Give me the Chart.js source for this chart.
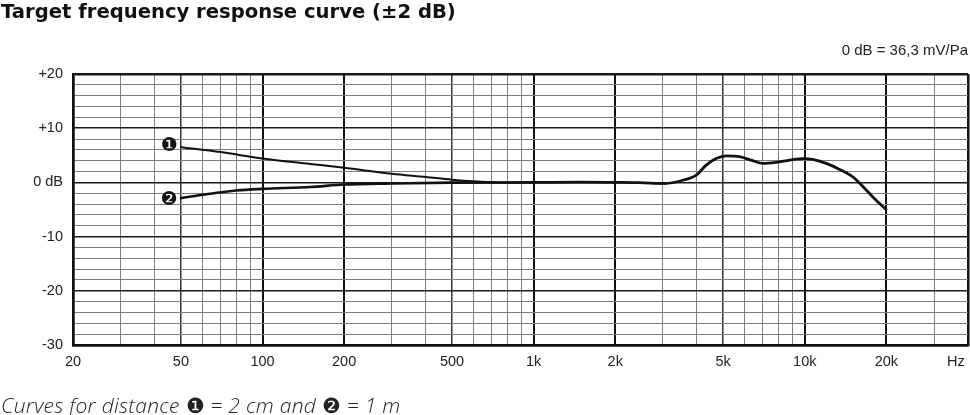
<!DOCTYPE html>
<html><head><meta charset="utf-8">
<script src="https://cdn.jsdelivr.net/npm/chart.js@4/dist/chart.umd.min.js"></script>
<style>
html,body{margin:0;padding:0;background:#fff;}
#wrap{position:relative;width:970px;height:415px;overflow:hidden;background:#fff;}
#c{position:absolute;left:0;top:0;}
.title{position:absolute;left:1px;top:0px;font:700 19.6px "DejaVu Sans",sans-serif;color:#111;white-space:nowrap;letter-spacing:0px;}
.ref{position:absolute;right:2px;top:41px;font:15px "Liberation Sans",Arial,sans-serif;color:#222;white-space:nowrap;}
.cap{position:absolute;left:1px;top:391px;font:italic 300 21px "Open Sans",sans-serif;color:#222;white-space:nowrap;letter-spacing:0.3px;}
.cap .d{font-style:normal;font-family:"DejaVu Sans",sans-serif;font-size:21px;letter-spacing:0;}
</style>
</head><body>
<div id="wrap">
<canvas id="c" width="970" height="415"></canvas>
<div class="title">Target frequency response curve (±2 dB)</div>
<div class="ref">0 dB = 36,3 mV/Pa</div>
<div class="cap">Curves for distance <span class="d">❶</span> = 2 cm and <span class="d">❷</span> = 1 m</div>
</div>
<script>
// Curve 1: distance 2 cm (low-frequency part, Hz / dB)
const freq1 = [50, 70, 100, 150, 200, 300, 400, 500, 600, 700, 800, 1000];
const resp1 = [6.5, 5.6, 4.4, 3.4, 2.7, 1.6, 1.0, 0.5, 0.2, 0.05, 0, 0];
// Curve 2: distance 1 m (low-frequency part)
const freq2 = [50, 62, 80, 100, 150, 200, 300, 500, 1000];
const resp2 = [-2.9, -2.2, -1.5, -1.2, -0.85, -0.4, -0.2, -0.05, 0];
// Shared part of both curves above 1 kHz
const freqHi = [1000, 1500, 2000, 2460, 3040, 3550, 3980, 4330, 4710, 5130, 5740, 6430, 7000, 7840, 8790, 9840, 10700, 12000, 13450, 15070, 16880, 18330, 19950];
const respHi = [0, 0.05, 0, -0.05, -0.2, 0.4, 1.35, 3.2, 4.4, 4.9, 4.75, 4.0, 3.5, 3.7, 4.1, 4.4, 4.25, 3.5, 2.4, 1.0, -1.45, -3.3, -5.0];

// Axis grid / tick labels
const xGridValues = [20,30,40,50,60,70,80,90,100,200,300,400,500,600,700,800,900,1000,2000,3000,4000,5000,6000,7000,8000,9000,10000,20000,30000,40000];
const xLabelValues = [20,50,100,200,500,1000,2000,5000,10000,20000,40000];
const xLabelTexts = ['20','50','100','200','500','1k','2k','5k','10k','20k','Hz      '];
const yLabelValues = [20,10,0,-10,-20,-30];
const yLabelTexts = ['+20','+10','0 dB','-10','-20','-30'];
const markerTexts = ['❶','❷'];

const toPts = (f, r) => f.map((v, i) => ({x: v, y: r[i]}));

const xMajor = [100,200,1000,2000,10000,20000];
const xMedium = [50,500,5000];
const xEdge = [20,40000];

function xGridColor(ctx){ const v = ctx.tick && ctx.tick.value;
  if (xEdge.includes(v) || xMajor.includes(v)) return '#111';
  if (xMedium.includes(v)) return '#333';
  return '#7d7d7d'; }
function xGridWidth(ctx){ const v = ctx.tick && ctx.tick.value;
  if (xEdge.includes(v)) return 2.5;
  if (xMajor.includes(v)) return 2;
  if (xMedium.includes(v)) return 1.5;
  return 1; }
function yGridColor(ctx){ const v = ctx.tick && ctx.tick.value;
  if (v % 10 === 0) return '#1a1a1a';
  return '#7d7d7d'; }
function yGridWidth(ctx){ const v = ctx.tick && ctx.tick.value;
  if (v === 20 || v === -30) return 2.5;
  if (v % 10 === 0) return 1.6;
  return 1; }

const markerPlugin = {
  id: 'markers',
  afterDatasetsDraw(chart){
    const c = chart.ctx, xs = chart.scales.x, ys = chart.scales.y;
    c.save();
    c.font = '19px "DejaVu Sans"';
    c.fillStyle = '#111';
    c.textAlign = 'center';
    c.textBaseline = 'middle';
    c.fillText(markerTexts[0], xs.getPixelForValue(freq1[0]) - 12, ys.getPixelForValue(resp1[0]) - 1.5);
    c.fillText(markerTexts[1], xs.getPixelForValue(freq2[0]) - 12, ys.getPixelForValue(resp2[0]) + 1.5);
    c.restore();
  }
};

const lineDs = (data, w) => ({
  type: 'line', data, borderColor: '#111', borderWidth: w, pointRadius: 0,
  fill: false, cubicInterpolationMode: 'monotone', borderCapStyle: 'round', borderJoinStyle: 'round'
});

new Chart(document.getElementById('c'), {
  type: 'line',
  data: { datasets: [
    lineDs(toPts(freq1, resp1), 2),
    lineDs(toPts(freq2, resp2), 2.6),
    lineDs(toPts(freqHi, respHi), 2.8)
  ]},
  plugins: [markerPlugin],
  options: {
    responsive: false, animation: false, devicePixelRatio: 1,
    layout: { padding: { top: 74, right: 2, left: 0, bottom: 0 } },
    plugins: { legend: { display: false }, tooltip: { enabled: false }, title: { display: false } },
    scales: {
      x: {
        type: 'logarithmic', min: 20, max: 40000,
        afterBuildTicks: s => { s.ticks = xGridValues.map(v => ({ value: v })); },
        afterFit: s => { s.height = 70; s.paddingLeft = 0; s.paddingRight = 0; },
        ticks: {
          autoSkip: false, maxRotation: 0, minRotation: 0, padding: 8,
          color: '#222', font: { family: '"Liberation Sans", Arial, sans-serif', size: 14.5 },
          callback: v => { const i = xLabelValues.indexOf(v); return i >= 0 ? xLabelTexts[i] : ''; }
        },
        grid: { color: xGridColor, lineWidth: xGridWidth, drawTicks: false },
        border: { display: true, color: '#111', width: 2.5 }
      },
      y: {
        type: 'linear', min: -30, max: 20,
        afterFit: s => { s.width = 73; s.paddingTop = 0; s.paddingBottom = 0; },
        ticks: {
          stepSize: 2, autoSkip: false, padding: 10,
          color: '#222', font: { family: '"Liberation Sans", Arial, sans-serif', size: 14.5 },
          callback: v => { const i = yLabelValues.indexOf(v); return i >= 0 ? yLabelTexts[i] : ''; }
        },
        grid: { color: yGridColor, lineWidth: yGridWidth, drawTicks: false },
        border: { display: true, color: '#111', width: 2.5 }
      }
    }
  }
});
</script>
</body></html>
